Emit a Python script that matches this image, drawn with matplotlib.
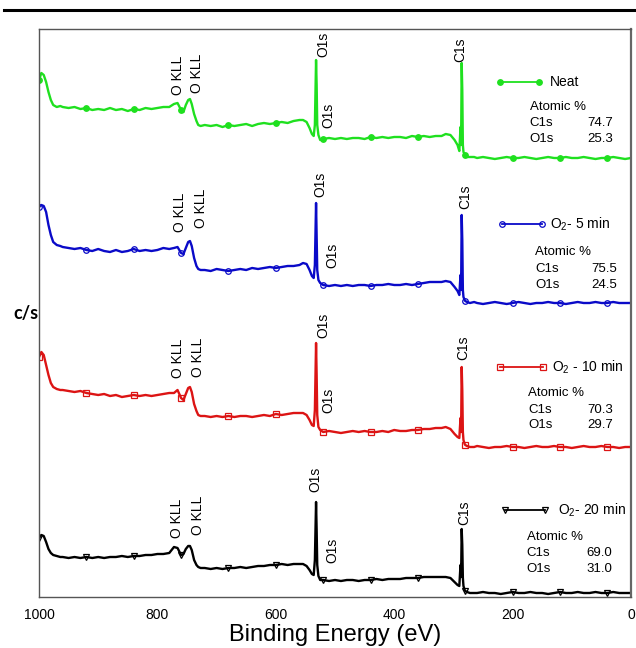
import matplotlib
matplotlib.use('Agg')
import matplotlib.pyplot as plt
from matplotlib.lines import Line2D
import numpy as np

plt.rcParams['font.family'] = ['Liberation Sans', 'DejaVu Sans']
plt.rcParams['mathtext.fontset'] = 'custom'
plt.rcParams['mathtext.rm'] = 'Liberation Sans'
plt.rcParams['mathtext.it'] = 'Liberation Sans'

# binding energy grid (eV), shared by all four survey spectra
energy = [
    1000, 996, 992, 988, 984, 980, 976, 970, 964,
    960, 950, 940, 930, 920, 910, 900, 890, 880, 870, 860, 850, 840, 830, 820, 810, 800, 790, 780,
    772, 766, 760, 756, 752, 748, 745, 742, 738, 734, 731, 727,
    720, 710, 700, 690, 680, 670, 660, 650, 640, 630, 620, 610, 600, 590, 580, 570, 560,
    554, 548, 543, 539, 536, 534, 533, 532, 531, 530, 528, 525,
    520, 510, 500, 490, 480, 470, 460, 450, 440, 430, 420, 410, 400, 390, 380, 370, 360, 350, 340, 330, 320,
    313, 305, 298, 293, 290, 288, 287, 286, 285, 284, 283, 281, 280, 277, 272,
    265, 260, 250, 240, 230, 220, 210, 200, 190, 180, 170, 160, 150, 140, 130, 120, 110, 100, 90, 80, 70,
    60, 50, 40, 30, 20, 10, 0,
]

# counts (arbitrary units, relative to each spectrum's low-energy baseline)
neat = [
    78, 85, 83, 76, 66, 58, 53, 51, 52,
    51, 50, 51, 49, 50, 48, 49, 48, 50, 48, 49, 47, 49, 48, 50, 49, 50, 51, 51,
    54, 55, 48, 46, 53, 58, 59, 54, 44, 37, 33, 32,
    33, 32, 33, 31, 33, 32, 33, 34, 32, 34, 35, 34, 35, 36, 35, 37, 38,
    38, 36, 30, 24, 22, 33, 68, 98, 73, 33, 23, 18,
    19, 20, 19, 20, 19, 20, 20, 19, 21, 20, 21, 20, 21, 21, 20, 22, 21, 22, 21, 22, 22,
    24, 23, 18, 13, 7, 31, 13, 95, 68, 13, 6, 4, 3, 1, 1,
    1, 0, 1, 0, -1, 0, 1, 0, 0, 1, 0, -1, 0, 1, 0, 0, 1, 0, 0, 1, 0,
    -1, 0, 0, 1, 0, -1, 0,
]
o2_5min = [
    96, 98, 97, 91, 78, 68, 61, 58, 57,
    56, 55, 54, 55, 53, 52, 54, 52, 51, 53, 51, 52, 54, 52, 53, 52, 53, 55, 54,
    55, 56, 50, 49, 55, 61, 62, 57, 45, 37, 34, 33,
    33, 32, 34, 33, 32, 33, 34, 33, 35, 34, 35, 36, 35, 36, 37, 37, 38,
    40, 39, 33, 27, 25, 38, 68, 100, 68, 33, 23, 20,
    18, 17, 18, 17, 18, 17, 18, 18, 17, 18, 18, 19, 18, 18, 19, 18, 19, 20, 21, 21, 21,
    22, 21, 16, 12, 8, 28, 13, 88, 63, 13, 6, 3, 2, 1, 0,
    1, 0, -1, 0, 1, 0, -1, 0, 1, 0, -1, 0, 0, 1, 0, 0, -1, 0, 1, 0, 0,
    1, 0, 0, 1, 0, 0, 0,
]
o2_10min = [
    90, 95, 92, 82, 72, 64, 60, 58, 57,
    57, 56, 55, 56, 54, 53, 52, 53, 51, 52, 50, 51, 52, 51, 52, 51, 52, 53, 54,
    54, 57, 49, 47, 53, 59, 60, 55, 43, 36, 32, 31,
    31, 30, 31, 30, 31, 30, 31, 31, 30, 31, 32, 31, 33, 32, 33, 34, 34,
    34, 32, 27, 22, 21, 37, 72, 104, 72, 32, 20, 17,
    15, 16, 15, 14, 15, 16, 15, 16, 15, 15, 16, 15, 17, 16, 16, 17, 17, 18, 18, 19, 19,
    20, 18, 13, 10, 9, 29, 15, 80, 57, 15, 7, 3, 2, 1, 0,
    0, 1, 0, -1, 0, 0, 1, 0, 0, -1, 0, 1, 0, 0, 1, 0, 0, -1, 0, 1, 0,
    0, 1, 0, 0, -1, 0, 0,
]
o2_20min = [
    55, 58, 57, 51, 44, 40, 38, 37, 36,
    36, 35, 36, 35, 36, 35, 36, 35, 36, 36, 37, 36, 37, 37, 38, 38, 39, 39, 40,
    46, 45, 38, 39, 44, 47, 47, 43, 33, 28, 26, 25,
    25, 24, 25, 24, 25, 25, 26, 25, 26, 27, 27, 28, 28, 29, 28, 29, 29,
    29, 27, 23, 19, 18, 33, 63, 91, 63, 28, 17, 13,
    13, 12, 13, 12, 13, 13, 12, 13, 13, 14, 13, 14, 14, 14, 15, 15, 15, 16, 16, 16, 16,
    16, 15, 11, 8, 7, 28, 16, 64, 48, 15, 7, 3, 2, 1, 0,
    0, 0, 1, 0, 0, -1, 0, 1, 0, 0, 1, 0, 0, -1, 0, 1, 0, 0, 1, 0, 0,
    1, 0, 0, 1, 0, 0, 0,
]

series_labels = ['Neat', r'O$_2$- 5 min', r'O$_2$ - 10 min', r'O$_2$- 20 min']
atomic_c1s = [74.7, 75.5, 70.3, 69.0]
atomic_o1s = [25.3, 24.5, 29.7, 31.0]
marker_energies = [1000, 920, 840, 760, 680, 600, 520, 440, 360, 280, 200, 120, 40]

# stacking offset for each trace
offsets = [439, 294, 150, 4]
colors = ['#1fe01f', '#0a0ac8', '#dc1414', '#000000']
markers = ['o', 'o', 's', 'v']
filled = [True, False, False, False]

# peak annotations: (text, energy, bottom of label)
peak_labels = [
    [('O KLL', 765, 502), ('O KLL', 733, 504), ('O1s', 520, 540), ('O1s', 511, 469), ('C1s', 288, 535)],
    [('O KLL', 762, 365), ('O KLL', 726, 369), ('O1s', 525, 400), ('O1s', 505, 329), ('C1s', 280, 388)],
    [('O KLL', 765, 219), ('O KLL', 731, 220), ('O1s', 520, 259), ('O1s', 511, 184), ('C1s', 283, 237)],
    [('O KLL', 767, 59), ('O KLL', 731, 62), ('O1s', 533, 105), ('O1s', 505, 34), ('C1s', 281, 72)],
]

# legend blocks (axes fraction): line x0, x1, y, label x, atomic text x, value right x, atomic y top
legend_pos = [
    (0.779, 0.845, 0.907, 0.863, 0.829, 0.970, 0.863),
    (0.782, 0.850, 0.657, 0.864, 0.838, 0.976, 0.607),
    (0.779, 0.851, 0.405, 0.866, 0.826, 0.970, 0.359),
    (0.787, 0.855, 0.153, 0.876, 0.824, 0.968, 0.106),
]

fig = plt.figure(figsize=(6.36, 6.48), dpi=100)
ax = fig.add_axes([39 / 636, 1 - 597 / 648, 592 / 636, 568 / 648])

e = np.array(energy)
mark_idx = [i for i, v in enumerate(energy) if v in marker_energies]
spectra = [neat, o2_5min, o2_10min, o2_20min]

for k, y in enumerate(spectra):
    yy = np.array(y) + offsets[k]
    mfc = colors[k] if filled[k] else 'none'
    ax.plot(e, yy, color=colors[k], lw=1.7, marker=markers[k], markevery=mark_idx,
            ms=4, mfc=mfc, mec=colors[k], mew=0.9)
    for txt, ex, yb in peak_labels[k]:
        ax.text(ex, yb, txt, rotation=90, ha='center', va='bottom', fontsize=10)

    x0, x1, ly, tx, ax_x, vx, aty = legend_pos[k]
    ax.plot([x0, x1], [ly, ly], transform=ax.transAxes, color=colors[k], lw=1.3,
            marker=markers[k], ms=4, mfc=mfc, mec=colors[k], mew=0.9, clip_on=False)
    ax.text(tx, ly, series_labels[k], transform=ax.transAxes, ha='left', va='center', fontsize=10)
    ax.text(ax_x, aty, 'Atomic %', transform=ax.transAxes, ha='left', va='center', fontsize=9.5)
    ax.text(ax_x, aty - 0.029, 'C1s', transform=ax.transAxes, ha='left', va='center', fontsize=9.5)
    ax.text(vx, aty - 0.029, '%.1f' % atomic_c1s[k], transform=ax.transAxes, ha='right', va='center', fontsize=9.5)
    ax.text(ax_x, aty - 0.057, 'O1s', transform=ax.transAxes, ha='left', va='center', fontsize=9.5)
    ax.text(vx, aty - 0.057, '%.1f' % atomic_o1s[k], transform=ax.transAxes, ha='right', va='center', fontsize=9.5)

ax.set_xlim(1000, 0)
ax.set_ylim(0, 568)
ax.set_yticks([])
ax.set_xticks([1000, 800, 600, 400, 200, 0])
ax.tick_params(axis='x', length=0, pad=8, labelsize=10)
ax.set_xlabel('Binding Energy (eV)', fontsize=17, labelpad=1)
for s in ['top', 'left', 'bottom']:
    ax.spines[s].set_color('#555555')
    ax.spines[s].set_linewidth(1.0)
ax.spines['right'].set_color('#666666')
ax.spines['right'].set_linewidth(1.6)

fig.text(13 / 636, 1 - 313 / 648, 'c/s', fontsize=13, fontweight='bold',
         family=['Lato', 'DejaVu Sans'], ha='left', va='center')
fig.add_artist(Line2D([4 / 636, 1.0], [1 - 10 / 648, 1 - 10 / 648], color='black', lw=2.2))

fig.savefig('out.png', dpi=100)
